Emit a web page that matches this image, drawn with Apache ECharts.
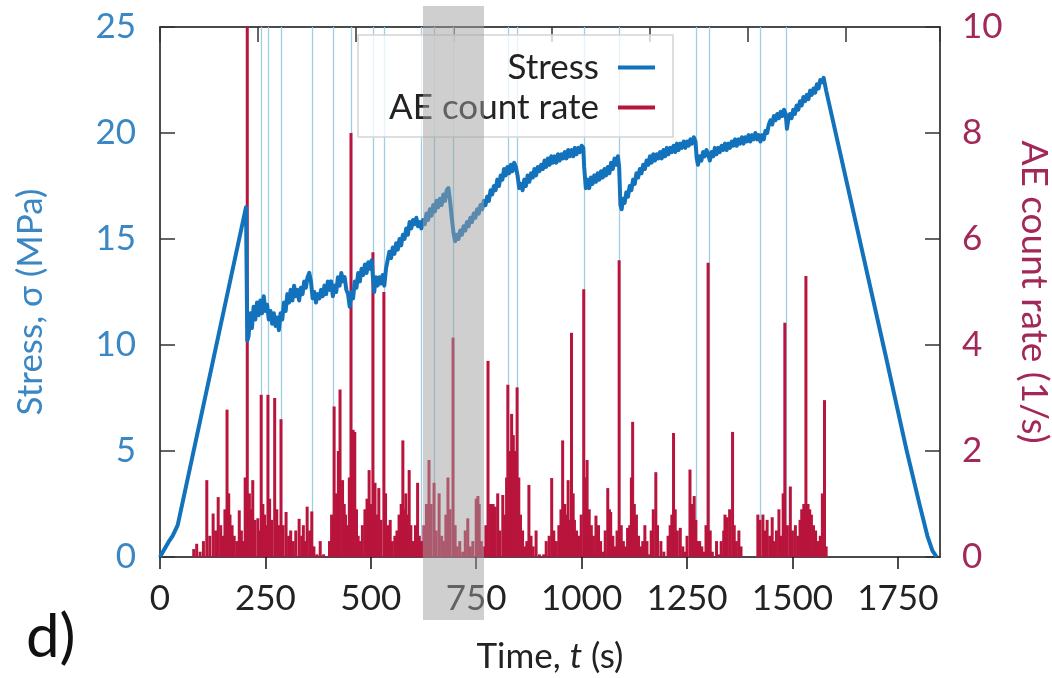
<!DOCTYPE html>
<html>
<head>
<meta charset="utf-8">
<script src="https://cdn.jsdelivr.net/npm/echarts@6/dist/echarts.min.js"></script>
<style>
html, body { margin: 0; padding: 0; background: #fff; }
#chart { width: 1052px; height: 678px; }
</style>
</head>
<body>
<div id="chart"></div>
<script>
// stress curve, [time s, stress MPa]
const stressData = [
  [0,0],[10,0.35],[20,0.7],[30,1.0],[42,1.5],[204,16.5],[207,10.2],[210,10.4],[214,11.5],[218,10.8],
  [222,11.8],[226,11.2],[230,12.0],[234,11.4],[238,12.1],[242,11.5],[246,12.3],[250,11.6],[254,11.9],[258,11.2],
  [262,11.6],[266,11.0],[270,11.5],[274,10.9],[278,11.3],[282,10.7],[286,11.5],[290,11.2],[294,12.0],[298,11.6],
  [302,12.4],[306,12.0],[310,12.6],[314,12.1],[318,12.8],[322,12.3],[326,12.6],[330,12.1],[334,12.7],[338,12.4],
  [342,13.0],[346,12.7],[350,13.2],[354,13.4],[358,13.0],[362,12.2],[366,12.5],[370,12.0],[374,12.4],[378,12.2],
  [382,12.6],[386,12.3],[390,12.8],[394,12.4],[398,13.0],[402,12.6],[406,13.0],[410,12.3],[414,12.8],[418,12.5],
  [422,13.2],[426,12.8],[430,13.4],[434,13.0],[438,13.2],[442,12.6],[446,12.4],[450,11.8],[454,12.5],[458,12.2],
  [462,13.0],[466,12.7],[470,13.4],[474,13.0],[478,13.6],[482,13.3],[486,13.8],[490,13.4],[494,13.9],[498,13.6],
  [502,14.0],[505,13.2],[508,12.5],[512,13.2],[516,12.8],[520,13.2],[524,12.9],[528,13.3],[532,12.8],[536,13.6],
  [540,14.0],[544,14.4],[548,14.1],[552,14.6],[556,14.3],[560,14.8],[564,14.5],[568,15.0],[572,14.7],[576,15.2],
  [580,15.0],[584,15.5],[588,15.2],[592,15.8],[596,15.5],[600,15.9],[604,15.7],[608,16.0],[612,15.6],[616,15.8],
  [620,15.5],[624,15.9],[628,15.7],[632,16.2],[636,15.9],[640,16.4],[644,16.1],[648,16.6],[652,16.3],[656,16.8],
  [660,16.5],[664,16.9],[668,16.6],[672,17.1],[676,16.8],[680,17.3],[684,17.4],[688,16.8],[692,16.0],[696,15.3],
  [700,14.9],[704,15.2],[708,15.0],[712,15.4],[716,15.2],[720,15.6],[724,15.4],[728,15.8],[732,15.6],[736,16.0],
  [740,15.8],[744,16.2],[748,16.0],[752,16.4],[756,16.2],[760,16.6],[764,16.4],[768,16.8],[772,16.6],[776,17.0],
  [780,16.8],[784,17.3],[788,17.1],[792,17.5],[796,17.3],[800,17.8],[804,17.5],[808,18.0],[812,17.8],[816,18.3],
  [820,18.0],[824,18.4],[828,18.1],[832,18.5],[836,18.2],[840,18.6],[844,18.4],[848,18.0],[852,17.4],[856,17.6],
  [860,17.3],[864,17.8],[868,17.5],[872,18.0],[876,17.7],[880,18.1],[884,17.9],[888,18.3],[892,18.0],[896,18.4],
  [900,18.2],[904,18.5],[908,18.3],[912,18.7],[916,18.4],[920,18.8],[924,18.5],[928,18.9],[932,18.6],[936,18.9],
  [940,18.6],[944,19.0],[948,18.7],[952,19.0],[956,18.8],[960,19.1],[964,18.8],[968,19.2],[972,18.9],[976,19.2],
  [980,18.9],[984,19.3],[988,19.0],[992,19.3],[996,19.1],[1000,19.4],[1004,19.3],[1006,18.4],[1010,17.4],[1014,17.8],
  [1018,17.4],[1022,17.9],[1026,17.6],[1030,18.0],[1034,17.7],[1038,18.1],[1042,17.8],[1046,18.2],[1050,17.9],[1054,18.3],
  [1058,18.0],[1062,18.4],[1066,18.1],[1070,18.6],[1074,18.3],[1078,18.8],[1082,18.5],[1086,18.9],[1089,18.4],[1092,16.6],
  [1095,16.4],[1098,16.9],[1102,16.7],[1106,17.2],[1110,17.0],[1114,17.5],[1118,17.3],[1122,17.8],[1126,17.6],[1130,18.1],
  [1134,17.9],[1138,18.3],[1142,18.1],[1146,18.5],[1150,18.3],[1154,18.7],[1158,18.5],[1162,18.9],[1166,18.6],[1170,19.0],
  [1174,18.7],[1178,19.0],[1182,18.8],[1186,19.1],[1190,18.8],[1194,19.2],[1198,18.9],[1202,19.3],[1206,19.0],[1210,19.3],
  [1214,19.1],[1218,19.4],[1222,19.1],[1226,19.5],[1230,19.2],[1234,19.5],[1238,19.3],[1242,19.6],[1246,19.3],[1250,19.6],
  [1254,19.4],[1258,19.7],[1262,19.5],[1266,19.8],[1270,19.6],[1273,18.8],[1276,18.5],[1280,18.9],[1284,18.7],[1288,19.1],
  [1292,18.9],[1296,19.2],[1300,19.0],[1304,18.7],[1308,19.1],[1312,18.9],[1316,19.3],[1320,19.0],[1324,19.3],[1328,19.1],
  [1332,19.4],[1336,19.2],[1340,19.5],[1344,19.2],[1348,19.5],[1352,19.3],[1356,19.6],[1360,19.4],[1364,19.7],[1368,19.4],
  [1372,19.7],[1376,19.5],[1380,19.8],[1384,19.5],[1388,19.8],[1392,19.6],[1396,19.9],[1400,19.6],[1404,19.9],[1408,19.7],
  [1412,20.0],[1416,19.7],[1420,19.9],[1424,19.6],[1428,19.9],[1432,19.7],[1436,20.1],[1440,20.0],[1444,20.4],[1448,20.6],
  [1452,20.4],[1456,20.8],[1460,20.6],[1464,20.9],[1468,20.7],[1472,21.0],[1476,20.8],[1480,21.1],[1484,20.9],[1487,20.2],
  [1490,20.6],[1494,20.9],[1498,20.7],[1502,21.1],[1506,20.9],[1510,21.3],[1514,21.1],[1518,21.5],[1522,21.3],[1526,21.7],
  [1530,21.5],[1534,21.8],[1538,21.6],[1542,22.0],[1546,21.8],[1550,22.1],[1554,21.9],[1558,22.3],[1562,22.1],[1566,22.5],
  [1570,22.4],[1574,22.6],[1580,22.0],[1650,15.8],[1720,9.6],[1770,5.1],[1800,2.6],[1820,1.0],[1832,0.3],[1842,0]
];

// AE count rate impulses, [time s, rate 1/s]
const aeData = [
  [80,0.15],[87,0.25],[95,0.1],[103,0.3],[111,1.45],[118,0.4],[126,0.82],[132,0.5],[138,1.13],[144,0.6],
  [149,0.4],[154,0.9],[159,2.78],[163,1.2],[166,0.8],[171,0.6],[176,0.4],[182,0.3],[188,0.88],[193,0.5],
  [197,0.3],[202,1.5],[207,10],[212,1.2],[216,0.9],[220,1.45],[225,0.7],[232,0.73],[236,0.5],[240,3.06],
  [244,1.0],[248,0.8],[252,0.6],[256,3.06],[260,1.1],[265,0.7],[272,3.0],[277,0.9],[282,0.6],[287,2.6],
  [292,0.6],[299,0.85],[305,0.4],[310,0.5],[316,0.3],[322,0.5],[330,0.72],[336,0.4],[340,0.6],[344,0.3],
  [349,0.95],[355,0.5],[360,0.86],[365,0.2],[372,0.05],[380,0.3],[388,0.05],[402,0.3],[407,0.8],[413,2.84],
  [418,1.2],[423,2.0],[427,3.16],[433,1.45],[437,1.0],[440,0.8],[445,0.6],[449,1.5],[453,8.0],[458,2.4],
  [462,2.36],[466,0.9],[470,0.4],[475,0.3],[480,0.6],[486,0.9],[491,1.1],[496,1.64],[500,1.0],[505,5.75],
  [510,1.4],[515,0.8],[519,1.3],[524,0.7],[531,5.0],[535,1.2],[540,0.6],[546,0.7],[551,0.3],[557,0.4],
  [562,0.5],[567,0.8],[572,1.0],[576,2.2],[580,0.9],[583,1.2],[587,0.8],[591,1.64],[595,0.6],[600,0.3],
  [606,0.6],[611,1.4],[615,0.4],[620,0.3],[626,0.6],[632,1.0],[638,1.83],[643,1.0],[650,1.4],[655,0.5],
  [662,1.2],[668,0.4],[673,0.3],[678,0.8],[683,1.5],[688,0.9],[695,4.14],[700,0.6],[705,0.2],[711,0.3],
  [718,0.1],[724,0.5],[730,0.73],[736,0.2],[742,0.3],[750,1.1],[754,1.15],[757,1.0],[762,0.3],[768,0.2],
  [773,0.6],[778,3.7],[784,1.0],[790,1.0],[795,0.95],[801,1.2],[806,0.5],[813,1.17],[818,0.8],[822,1.5],
  [825,3.25],[829,2.0],[834,2.7],[838,2.3],[843,2.0],[847,3.2],[851,1.5],[855,0.8],[860,0.5],[866,0.2],
  [870,0.3],[875,1.36],[880,0.4],[885,0.2],[892,0.5],[900,0.05],[910,0.05],[916,0.3],[923,0.4],[929,1.49],
  [934,0.5],[940,0.3],[946,0.6],[951,0.9],[955,2.2],[960,1.0],[964,0.8],[968,1.45],[972,0.7],[976,4.23],
  [980,1.2],[983,0.7],[988,0.5],[993,0.4],[999,0.8],[1005,5.05],[1009,1.5],[1013,1.83],[1018,0.9],[1023,0.6],
  [1028,0.4],[1034,0.78],[1040,0.6],[1045,0.3],[1050,0.1],[1056,0.5],[1062,1.3],[1066,0.9],[1069,0.85],[1074,0.4],
  [1079,0.2],[1084,0.5],[1089,5.6],[1094,0.6],[1099,0.3],[1104,0.2],[1109,0.55],[1114,0.6],[1118,1.5],[1121,2.55],
  [1125,1.0],[1130,0.8],[1135,0.4],[1140,0.2],[1145,0.3],[1150,0.6],[1155,0.3],[1160,0.05],[1165,0.5],[1170,0.9],
  [1176,1.6],[1180,0.6],[1188,0.3],[1195,0.1],[1205,0.4],[1210,0.6],[1214,0.8],[1218,2.34],[1222,0.9],[1227,0.5],
  [1234,0.55],[1240,0.2],[1245,0.1],[1250,0.4],[1257,1.65],[1262,1.0],[1267,1.15],[1271,0.7],[1276,0.3],[1280,0.3],
  [1285,0.2],[1290,0.1],[1295,0.6],[1300,5.55],[1305,0.5],[1310,0.1],[1320,0.3],[1326,0.05],[1331,0.3],[1337,0.5],
  [1340,0.8],[1345,0.75],[1351,0.9],[1358,2.36],[1362,0.6],[1367,0.3],[1373,0.5],[1378,0.2],[1418,0.8],[1423,0.7],
  [1430,0.8],[1435,0.5],[1440,0.7],[1446,0.4],[1452,0.75],[1457,0.3],[1462,0.5],[1468,0.9],[1473,0.4],[1478,1.2],
  [1482,4.42],[1488,0.6],[1495,1.33],[1500,0.5],[1507,0.6],[1513,0.4],[1518,0.7],[1522,0.9],[1527,1.0],[1532,5.3],
  [1537,1.0],[1541,0.9],[1545,0.8],[1550,0.6],[1555,0.5],[1560,0.3],[1566,0.4],[1571,1.2],[1576,2.96],[1580,0.2]
];

// times of the marked events (thin light-blue lines)
const eventTimes = [240, 256, 287, 361, 410, 453, 505, 531, 619, 650, 695, 825, 847, 1006, 1089, 1271, 1302, 1423, 1485];

const FONT = 'Lato';
const stressColor = '#1272bb';
const aeColor = '#b8143c';
const leftLabelColor = '#3a87c4';
const rightLabelColor = '#a2285a';

const chart = echarts.init(document.getElementById('chart'));

chart.setOption({
  animation: false,
  backgroundColor: '#fff',
  grid: { left: 160, right: 112, top: 27, bottom: 121, containLabel: false, outerBoundsMode: 'none' },
  legend: [
    {
      data: ['Stress'], right: 397, top: 50, padding: 0, align: 'right',
      icon: 'rect', itemWidth: 37, itemHeight: 4,
      textStyle: { fontFamily: FONT, fontSize: 35, color: '#222', padding: [0, 14, 0, 0] }
    },
    {
      data: ['AE count rate'], right: 397, top: 90, padding: 0, align: 'right',
      icon: 'rect', itemWidth: 37, itemHeight: 4,
      textStyle: { fontFamily: FONT, fontSize: 35, color: '#222', padding: [0, 14, 0, 0] }
    }
  ],
  xAxis: [
    {
      type: 'value', position: 'bottom', min: 0, max: 1850, interval: 250,
      name: 'Time, {i|t} (s)', nameLocation: 'middle', nameGap: 82,
      nameTextStyle: {
        fontFamily: FONT, fontSize: 35, color: '#222',
        rich: { i: { fontFamily: FONT, fontSize: 35, fontStyle: 'italic', color: '#222' } }
      },
      axisLine: { onZero: false, lineStyle: { color: '#111', width: 1.5 } },
      axisTick: { inside: false, length: 12, lineStyle: { color: '#111', width: 1.5 } },
      axisLabel: {
        fontFamily: FONT, fontSize: 35, color: '#222', margin: 24, showMaxLabel: false,
        formatter: v => String(v)
      },
      splitLine: { show: false }
    },
    {
      type: 'value', position: 'top', min: 0, max: 1850, interval: 232.5,
      axisLine: { onZero: false, lineStyle: { color: '#111', width: 1.5 } },
      axisTick: { show: true, inside: true, length: 15, lineStyle: { color: '#333', width: 1.5 } },
      axisLabel: { show: false },
      splitLine: { show: false }
    }
  ],
  yAxis: [
    {
      type: 'value', position: 'left', min: 0, max: 25, interval: 5,
      name: 'Stress, σ (MPa)', nameLocation: 'middle', nameGap: 112,
      nameTextStyle: { fontFamily: FONT, fontSize: 35, color: leftLabelColor, padding: [0, 20, 0, 0] },
      axisLine: { show: true, onZero: false, lineStyle: { color: '#111', width: 1.5 } },
      axisTick: { show: true, inside: true, length: 15, lineStyle: { color: '#333', width: 1.5 } },
      axisLabel: { fontFamily: FONT, fontSize: 35, color: leftLabelColor, margin: 24 },
      splitLine: { show: false }
    },
    {
      type: 'value', position: 'right', min: 0, max: 10, interval: 2,
      name: 'AE count rate (1/s)', nameLocation: 'middle', nameGap: 75, nameRotate: -90,
      nameTextStyle: { fontFamily: FONT, fontSize: 37, color: rightLabelColor },
      axisLine: { show: true, onZero: false, lineStyle: { color: '#111', width: 1.5 } },
      axisTick: { show: true, inside: true, length: 15, lineStyle: { color: '#333', width: 1.5 } },
      axisLabel: { fontFamily: FONT, fontSize: 35, color: rightLabelColor, margin: 22 },
      splitLine: { show: false }
    }
  ],
  series: [
    {
      name: 'AE count rate', type: 'bar', xAxisIndex: 0, yAxisIndex: 1,
      data: aeData, barWidth: 3, barGap: '-100%',
      itemStyle: { color: aeColor },
      z: 2,
      markLine: {
        silent: true, symbol: 'none', z: 1, animation: false,
        label: { show: false },
        lineStyle: { color: '#9fcde6', width: 1.3, type: 'solid' },
        data: eventTimes.map(t => ({ xAxis: t }))
      }
    },
    {
      name: 'Stress', type: 'line', xAxisIndex: 0, yAxisIndex: 0,
      data: stressData, showSymbol: false, symbol: 'none',
      lineStyle: { color: stressColor, width: 4, join: 'round' },
      itemStyle: { color: stressColor },
      z: 3
    }
  ],
  graphic: [
    {
      type: 'rect', z: 3.5, silent: true,
      shape: { x: 358, y: 35, width: 315, height: 102 },
      style: { fill: 'rgba(255,255,255,0.75)', stroke: '#d4d4d4', lineWidth: 1.5 }
    },
    {
      type: 'rect', z: 100, silent: true,
      shape: { x: 423, y: 6, width: 61, height: 614 },
      style: { fill: 'rgba(160,160,160,0.5)' }
    },
    {
      type: 'text', left: 26, top: 608, z: 10,
      style: { text: 'd)', font: '60px Lato', fill: '#111' }
    }
  ]
});
</script>
</body>
</html>
